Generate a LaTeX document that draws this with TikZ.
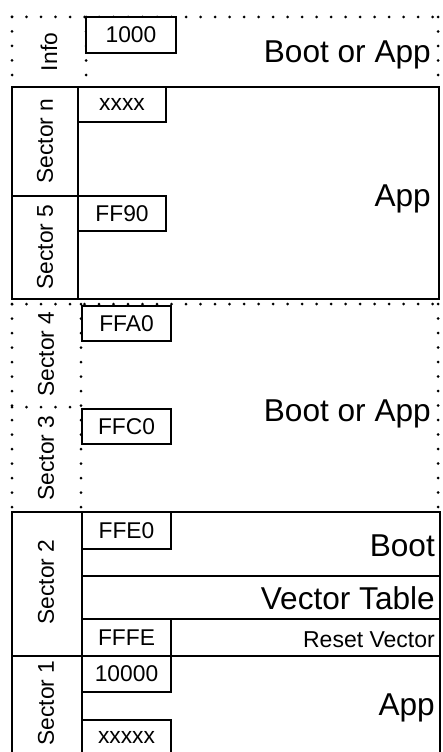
\documentclass[tikz,border=0pt]{standalone}
\usepackage{fontspec}
\setmainfont{Liberation Sans}
\begin{document}
\begin{tikzpicture}[x=1pt,y=-1pt,
  solidline/.style={line width=2.8pt, line join=miter},
  dotline/.style={line width=3pt, line cap=round, dash pattern=on 0pt off 14.5pt},
  addrbox/.style={draw, line width=2.8pt, fill=white},
  small/.style={inner sep=0pt, font=\fontsize{22.8}{27}\selectfont},
  big/.style={inner sep=0pt, anchor=base east, font=\fontsize{31.6}{38}\selectfont},
  seclabel/.style={small, rotate=90}]
\useasboundingbox (0,0) rectangle (442,752);
\clip (0,0) rectangle (442,752);

% ---- Info (dotted)
\draw[dotline] (12,17) -- (12,87);
\draw[dotline] (12,17) -- (438,17);
\draw[dotline] (438,17) -- (438,87);
\draw[dotline] (86,17) -- (86,87);
\draw[addrbox] (86,17) rectangle (176,53);
\node[seclabel] (info) at (49,52) {Info};
\node[small] (a1000) at (131,35) {1000};
\node[big] (bootapp1) at (431,63) {Boot or App};

% ---- Sector n / 5 (solid)
\draw[solidline] (12,87) rectangle (439,299);
\draw[solidline] (78,87) -- (78,299);
\draw[solidline] (12,196) -- (78,196);
\draw[addrbox] (78,87) rectangle (166,122);
\draw[addrbox] (78,196) rectangle (166,231);
\node[seclabel] (secn) at (45,141) {Sector n};
\node[seclabel] (sec5) at (45,247) {Sector 5};
\node[small] (axxxx) at (122,104.5) {xxxx};
\node[small] (aff90) at (122,213.5) {FF90};
\node[big] (app1) at (431,206) {App};

% ---- Sector 4 / 3 (dotted)
\draw[dotline] (12,304) -- (438,304);
\draw[dotline] (12,304) -- (12,512);
\draw[dotline] (438,304) -- (438,512);
\draw[dotline] (81,304) -- (81,512);
\draw[dotline] (12,407) -- (81,407);
\draw[addrbox] (82,306) rectangle (171,341);
\draw[addrbox] (82,409) rectangle (171,444);
\node[seclabel] (sec4) at (46,354) {Sector 4};
\node[seclabel] (sec3) at (46,458) {Sector 3};
\node[small] (affa0) at (126.5,323.5) {FFA0};
\node[small] (affc0) at (126.5,426.5) {FFC0};
\node[big] (bootapp2) at (431,421) {Boot or App};

% ---- Sector 2 / 1 (solid)
\draw[solidline] (12,770) -- (12,512) -- (440,512) -- (440,770);
\draw[solidline] (82,512) -- (82,770);
\draw[solidline] (82,576) -- (440,576);
\draw[solidline] (82,619) -- (440,619);
\draw[solidline] (12,656) -- (440,656);
\draw[addrbox] (82,512) rectangle (171,549);
\draw[addrbox] (82,619) rectangle (171,656);
\draw[addrbox] (82,656) rectangle (171,692);
\draw[addrbox] (82,720) rectangle (171,770);
\node[seclabel] (sec2) at (46,582) {Sector 2};
\node[seclabel] (sec1) at (46,703) {Sector 1};
\node[small] (affe0) at (126.5,530.5) {FFE0};
\node[small] (afffe) at (126.5,637.5) {FFFE};
\node[small] (a10000) at (126.5,674) {10000};
\node[small] (axxxxx) at (126.5,737) {xxxxx};
\node[big] (boot) at (435,556) {Boot};
\node[big] (vtable) at (435,609) {Vector Table};
\node[inner sep=0pt, anchor=base east, font=\fontsize{23}{28}\selectfont] (reset) at (435,647) {Reset Vector};
\node[big] (app2) at (435,715) {App};
\end{tikzpicture}
\end{document}
